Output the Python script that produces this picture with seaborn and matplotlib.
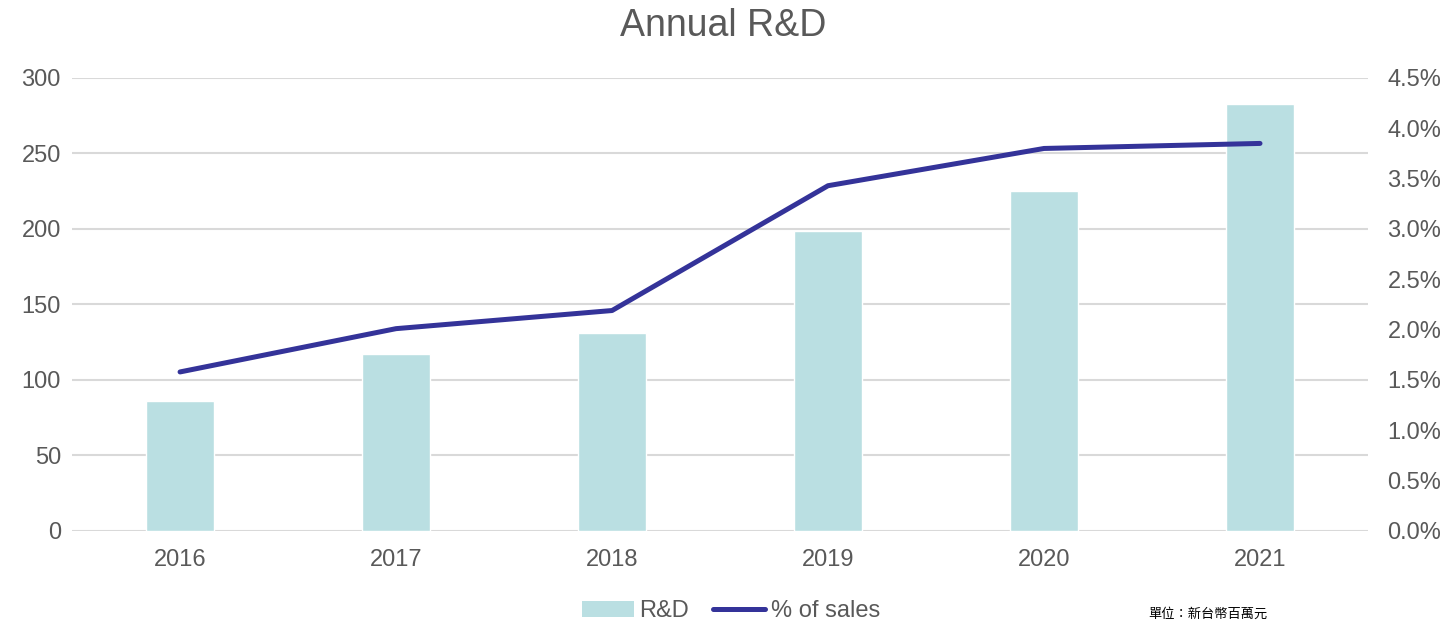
import numpy as np
import pandas as pd
import matplotlib
matplotlib.use('Agg')
import matplotlib.pyplot as plt
import seaborn as sns
from matplotlib.patches import Patch
from matplotlib.lines import Line2D
from matplotlib.ticker import FuncFormatter

years = ['2016', '2017', '2018', '2019', '2020', '2021']
rd = [86, 117, 131, 199, 225, 283]
pct_sales = [1.58, 2.01, 2.19, 3.43, 3.80, 3.85]

bar_color = '#BADFE2'
line_color = '#343399'
text_color = '#595959'
grid_color = '#D9D9D9'

sns.set_theme(style='white')
plt.rcParams['font.family'] = ['Liberation Sans', 'DejaVu Sans']

df = pd.DataFrame({'year': years, 'rd': rd, 'pct': pct_sales})

fig = plt.figure(figsize=(14.47, 6.23), dpi=100)
ax = fig.add_axes([0.0498, 0.1477, 0.8956, 0.7271])

# bars: R&D amount (left axis)
sns.barplot(data=df, x='year', y='rd', color=bar_color, width=0.315,
            saturation=1, ax=ax, zorder=2)
ax.set_ylim(0, 300)
ax.set_yticks(np.arange(0, 301, 50))
ax.set_xlim(-0.5, len(years) - 0.5)
ax.yaxis.grid(True, color=grid_color, linewidth=1.5, zorder=0)
ax.set_axisbelow(True)
ax.set_xlabel('')
ax.set_ylabel('')
for s in ax.spines.values():
    s.set_visible(False)
ax.tick_params(axis='both', length=0, labelsize=17, labelcolor=text_color)
ax.tick_params(axis='x', pad=13)
ax.tick_params(axis='y', pad=8)

# line: % of sales (right axis)
ax2 = ax.twinx()
sns.lineplot(x=np.arange(len(years)), y=pct_sales, color=line_color,
             linewidth=3.6, ax=ax2, solid_capstyle='round', zorder=3)
ax2.set_ylim(0, 4.5)
ax2.set_yticks(np.arange(0, 4.51, 0.5))
ax2.yaxis.set_major_formatter(FuncFormatter(lambda v, p: f'{v:.1f}%'))
ax2.set_xlim(-0.5, len(years) - 0.5)
for s in ax2.spines.values():
    s.set_visible(False)
ax2.tick_params(axis='y', length=0, labelsize=17, labelcolor=text_color, pad=14)
ax2.set_ylabel('')

fig.text(0.5, 0.958, 'Annual R&D', ha='center', va='center',
         fontsize=27, color=text_color)

handles = [Patch(facecolor=bar_color, edgecolor='none'),
           Line2D([0], [0], color=line_color, linewidth=3.6, solid_capstyle='round')]
fig.legend(handles, ['R&D', '% of sales'], loc='center', ncol=2,
           bbox_to_anchor=(0.505, 0.019), frameon=False, fontsize=17,
           labelcolor=text_color, handlelength=2.2, handletextpad=0.25,
           columnspacing=1.0)

fig.text(1148 / 1447, 2 / 623, '單位：新台幣百萬元', ha='left', va='bottom',
         fontsize=9.5, color='black',
         family=['Noto Sans CJK TC', 'DejaVu Sans'])

fig.savefig('out.png', dpi=100)
